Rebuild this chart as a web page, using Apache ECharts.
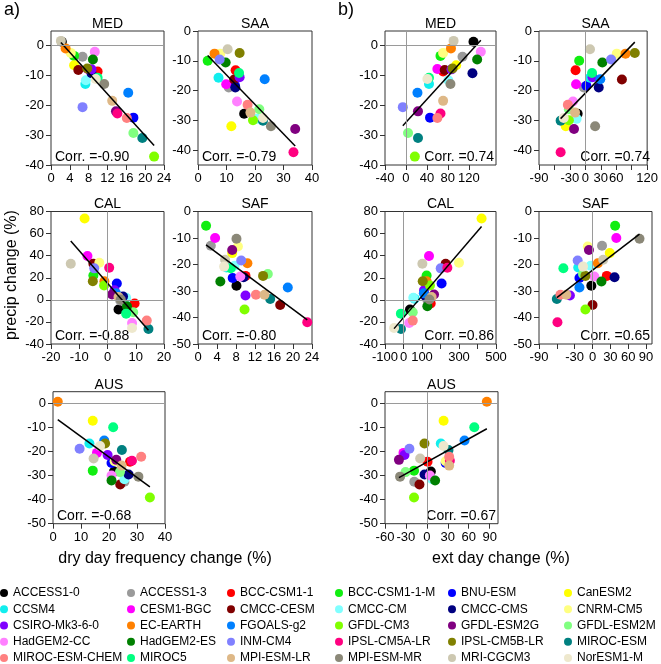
<!DOCTYPE html>
<html><head><meta charset="utf-8">
<script src="https://cdn.jsdelivr.net/npm/echarts@6/dist/echarts.min.js"></script>
<style>html,body{margin:0;padding:0;background:#fff}#c{width:661px;height:664px}</style>
</head><body><div id="c"></div>
<script>
// ---------- DATA ----------
const models = ['ACCESS1-0','ACCESS1-3','BCC-CSM1-1','BCC-CSM1-1-M','BNU-ESM','CanESM2','CCSM4','CESM1-BGC','CMCC-CESM','CMCC-CM','CMCC-CMS','CNRM-CM5','CSIRO-Mk3-6-0','EC-EARTH','FGOALS-g2','GFDL-CM3','GFDL-ESM2G','GFDL-ESM2M','HadGEM2-CC','HadGEM2-ES','INM-CM4','IPSL-CM5A-LR','IPSL-CM5B-LR','MIROC-ESM','MIROC-ESM-CHEM','MIROC5','MPI-ESM-LR','MPI-ESM-MR','MRI-CGCM3','NorESM1-M'];
const modelColors = ['#000000','#9a9a9a','#ff0000','#11ee11','#0000ff','#ffff00','#11eeee','#ff00ff','#800000','#80ffff','#000080','#ffff80','#8000ff','#ff8000','#0080ff','#80ff00','#800080','#80ff80','#ff80ff','#008000','#8080ff','#ff0080','#808000','#008080','#ff8080','#00ff80','#deb887','#8b8878','#cdc8b1','#eee8cd'];

const medPrecip = [1.1,-3.9,-8.8,-3.6,-24.2,-6.7,-13.0,-8.0,-8.3,-11.7,-9.4,-2.6,-8.1,-1.1,-15.9,-37.2,-22.1,-29.3,-2.2,-4.8,-20.7,-22.8,-7.8,-31.0,-24.3,-10.9,-18.6,-13.0,1.4,-11.3];
const medDry = [2.3,6.7,9.9,4.9,17.5,4.9,7.3,7.8,5.8,7.4,8.6,4.2,8.6,3.1,16.4,21.9,13.8,17.5,9.3,8.9,6.7,14.1,7.7,19.4,16.1,9.9,13.0,11.3,2.1,9.5];
const medExt = [129,108,71,66,46,96,44,60,74,81,127,71,87,86,22,17,23,4,143,136,-6,66,89,23,60,44,71,85,91,41];

const saaPrecip = [-27.8,-19.0,-13.2,-10.0,-18.4,-32.0,-15.7,-17.9,-16.3,-29.5,-19.0,-7.6,-15.5,-7.6,-16.2,-30.0,-32.9,-26.3,-23.7,-10.6,-9.6,-40.7,-7.4,-30.1,-24.8,-14.1,-27.4,-32.0,-6.1,-29.2];
const saaDry = [16.2,10.8,13.2,3.4,13.0,11.7,7.2,9.9,12.7,20.7,13.1,7.8,14.6,5.8,23.4,19.3,34.1,21.5,13.7,9.7,7.6,33.5,14.6,22.8,17.4,14.4,18.4,25.6,10.4,22.8];
const saaExt = [-15,-3,-19,-12,2,-38,9,-18,71,-17,26,61,14,78,29,-32,-22,-32,-24,33,50,-48,96,-48,-34,13,-20,19,9,-42];

const calPrecip = [-8.8,-0.5,-3.4,22.1,14.8,73.6,1.0,39.7,32.7,1.8,3.0,33.6,8.7,16.9,6.0,13.0,4.8,-11.2,-21.0,-5.8,28.5,29.1,16.9,-26.4,-18.8,-12.5,2.5,0.3,32.7,-25.5];
const calDry = [3.9,4.5,9.6,-5.0,3.3,-8.1,4.8,-7.1,-5.0,6.6,5.5,-2.9,2.5,-1.1,3.0,-1.2,1.6,9.1,8.7,6.9,-4.7,0.6,-5.2,14.5,13.9,6.6,3.9,4.7,-13.0,8.7];
const calExt = [35,130,147,125,206,422,60,138,228,53,120,300,111,125,110,143,165,50,31,129,201,237,104,-14,50,-14,152,140,102,-51];

const safPrecip = [-28.0,-12.9,-24.3,-5.4,-25.1,-15.7,-21.1,-10.0,-35.3,-20.5,-24.8,-13.2,-31.7,-19.5,-28.7,-37.0,-14.5,-23.6,-24.5,-26.4,-18.5,-41.8,-24.3,-33.0,-31.4,-21.4,-31.4,-10.3,-18.2,-20.8];
const safDry = [8.1,2.7,10.0,1.7,7.3,7.2,6.0,3.6,17.3,7.7,9.6,8.4,10.0,10.4,18.9,9.8,7.2,14.7,8.9,4.7,9.1,23.0,13.7,15.2,12.2,6.9,14.0,8.1,5.7,5.5];
const safExt = [-2,16,24,38,-22,29,-24,40,0,-3,37,-8,-38,9,-22,-12,-6,-16,3,15,-25,-59,-12,-60,-54,-49,-44,79,18,-16];

const ausPrecip = [-28.3,-32.5,-24.2,-27.9,-24.7,-7.1,-16.6,-20.5,-33.7,-31.5,-29.5,-24.0,-21.4,0.8,-15.3,-39.1,-23.4,-28.5,-29.9,-32.0,-18.8,-23.8,-16.6,-19.3,-22.1,-9.8,-25.8,-30.4,-22.8,-17.6];
const ausDry = [21.8,25.5,27.5,14.2,20.9,14.2,13.0,15.7,24.0,25.5,27.0,22.0,19.5,1.7,18.3,34.6,22.6,23.9,20.9,20.9,9.5,28.2,18.6,24.6,31.5,21.5,24.5,30.5,14.5,16.8];
const ausExt = [5.7,-18,1,-18.4,27,24,20,-33.5,-10.6,7.6,-3.3,27,-32,86,54,-18.4,-40,-30.5,4.3,11.8,-25,33,-3.4,31,32,68,32,-38.4,-9.6,24];

const corrDry = ['-0.90','-0.79','-0.88','-0.80','-0.68'];
const corrExt = ['0.74','0.74','0.86','0.65','0.67'];

// tick values / labels
const medDryTicks = [0,4,8,12,16,20,24];
const medExtTicks = [-40,0,40,80,120,160];
const saaDryTicks = [0,10,20,30,40];
const saaExtTicks = [-90,-60,-30,0,30,60,90,120];
const saaExtLabels = [-90,-30,0,30,60,120];
const calDryTicks = [-20,-10,0,10,20];
const calExtTicks = [-100,0,100,200,300,400,500];
const calExtLabels = [-100,0,100,300,500];
const safDryTicks = [0,4,8,12,16,20,24];
const safExtTicks = [-90,-60,-30,0,30,60,90];
const safExtLabels = [-90,-30,0,30,60,90];
const ausDryTicks = [0,10,20,30,40];
const ausExtTicks = [-60,-30,0,30,60,90];
const medPrecipTicks = [-40,-30,-20,-10,0];
const saaPrecipTicks = [-40,-30,-20,-10,0];
const calPrecipTicks = [-40,-20,0,20,40,60,80];
const safPrecipTicks = [-50,-40,-30,-20,-10,0];
const ausPrecipTicks = [-50,-40,-30,-20,-10,0];

// ---------- LAYOUT ----------
const FONT = '"Liberation Sans", Arial, Helvetica, sans-serif';
const panels = [
  {reg:'MED', xs:medDry, ys:medPrecip, corr:corrDry[0], side:'a', box:[51,31,164,165], x:[0,24], y:[-40,4.7], xt:medDryTicks, xl:medDryTicks, yt:medPrecipTicks},
  {reg:'SAA', xs:saaDry, ys:saaPrecip, corr:corrDry[1], side:'a', box:[198,31,312,165], x:[0,40], y:[-45,0], xt:saaDryTicks, xl:saaDryTicks, yt:saaPrecipTicks},
  {reg:'MED', xs:medExt, ys:medPrecip, corr:corrExt[0], side:'b', box:[385,31,496,165], x:[-40,172], y:[-40,4.7], xt:medExtTicks, xl:medExtTicks, yt:medPrecipTicks},
  {reg:'SAA', xs:saaExt, ys:saaPrecip, corr:corrExt[1], side:'b', box:[539,31,652,165], x:[-90,120], y:[-45,0], xt:saaExtTicks, xl:saaExtLabels, yt:saaPrecipTicks},
  {reg:'CAL', xs:calDry, ys:calPrecip, corr:corrDry[2], side:'a', box:[51,211.5,164,344], x:[-20,20], y:[-40,80], xt:calDryTicks, xl:calDryTicks, yt:calPrecipTicks},
  {reg:'SAF', xs:safDry, ys:safPrecip, corr:corrDry[3], side:'a', box:[198,211.5,312,344], x:[0,24], y:[-50,0], xt:safDryTicks, xl:safDryTicks, yt:safPrecipTicks},
  {reg:'CAL', xs:calExt, ys:calPrecip, corr:corrExt[2], side:'b', box:[385,211.5,496,344], x:[-100,500], y:[-40,80], xt:calExtTicks, xl:calExtLabels, yt:calPrecipTicks},
  {reg:'SAF', xs:safExt, ys:safPrecip, corr:corrExt[3], side:'b', box:[539,211.5,652,344], x:[-90,100], y:[-50,0], xt:safExtTicks, xl:safExtLabels, yt:safPrecipTicks},
  {reg:'AUS', xs:ausDry, ys:ausPrecip, corr:corrDry[4], side:'a', box:[53,391.7,165,523.7], x:[0,40], y:[-50,5], xt:ausDryTicks, xl:ausDryTicks, yt:ausPrecipTicks},
  {reg:'AUS', xs:ausExt, ys:ausPrecip, corr:corrExt[4], side:'b', box:[385,391.7,498,523.7], x:[-60,102], y:[-50,5], xt:ausExtTicks, xl:ausExtTicks, yt:ausPrecipTicks}
];

const grids=[], xAxes=[], yAxes=[], series=[], graphics=[];
panels.forEach((p,i)=>{
  const [l,t,r,b] = p.box;
  grids.push({left:l, top:t, width:r-l, height:b-t, show:true, borderColor:'#333', borderWidth:1, backgroundColor:'transparent'});
  const tickStyle = {show:true, inside:false, length:5, lineStyle:{color:'#333', width:1}};
  xAxes.push({gridIndex:i, type:'value', min:p.x[0], max:p.x[1], splitLine:{show:false},
    axisLine:{show:false, onZero:false},
    axisTick:Object.assign({customValues:p.xt}, tickStyle),
    axisLabel:{customValues:p.xl, fontSize:13, color:'#000', margin:7, fontFamily:FONT, hideOverlap:false}});
  yAxes.push({gridIndex:i, type:'value', min:p.y[0], max:p.y[1], splitLine:{show:false},
    axisLine:{show:false, onZero:false},
    axisTick:Object.assign({customValues:p.yt}, tickStyle),
    axisLabel:{customValues:p.yt, fontSize:13, color:'#000', margin:7, fontFamily:FONT}});
  const ml = [];
  if (p.y[0] < 0 && p.y[1] > 0) ml.push({yAxis:0});
  if (p.x[0] < 0 && p.x[1] > 0) ml.push({xAxis:0});
  series.push({type:'line', xAxisIndex:i, yAxisIndex:i, data:[], z:1, silent:true,
    markLine:{silent:true, symbol:'none', animation:false, label:{show:false},
      lineStyle:{color:'#9a9a9a', width:1, type:'solid'}, data:ml}});
  models.forEach((m,k)=>{
    series.push({type:'scatter', name:m, xAxisIndex:i, yAxisIndex:i, z:2,
      symbol:'circle', symbolSize:10, itemStyle:{color:modelColors[k], opacity:1},
      data:[[p.xs[k], p.ys[k]]]});
  });
  const n = p.xs.length;
  const mx = p.xs.reduce((a,v)=>a+v,0)/n, my = p.ys.reduce((a,v)=>a+v,0)/n;
  let sxy=0, sxx=0;
  for (let k=0;k<n;k++){ sxy += (p.xs[k]-mx)*(p.ys[k]-my); sxx += (p.xs[k]-mx)**2; }
  const slope = sxy/sxx, icpt = my - slope*mx;
  const x0 = Math.min(...p.xs), x1 = Math.max(...p.xs);
  series.push({type:'line', xAxisIndex:i, yAxisIndex:i, z:3, silent:true, symbol:'none',
    lineStyle:{color:'#000', width:1.5}, data:[[x0, icpt+slope*x0],[x1, icpt+slope*x1]]});
  graphics.push({type:'text', x:(l+r)/2, y:t-7, style:{text:p.reg, fontSize:14, fontFamily:FONT, fill:'#000', align:'center', verticalAlign:'middle'}});
  graphics.push({type:'text', x: p.side==='a' ? l+4 : r-2, y:b-8,
    style:{text:'Corr. =' + p.corr, fontSize:14, fontFamily:FONT, fill:'#000', align: p.side==='a'?'left':'right', verticalAlign:'middle'}});
});

graphics.push({type:'text', x:4, y:10, style:{text:'a)', fontSize:18, fontFamily:FONT, fill:'#000', align:'left', verticalAlign:'middle'}});
graphics.push({type:'text', x:338, y:10, style:{text:'b)', fontSize:18, fontFamily:FONT, fill:'#000', align:'left', verticalAlign:'middle'}});
graphics.push({type:'text', x:12, y:275, rotation:Math.PI/2, style:{text:'precip change (%)', fontSize:16, fontFamily:FONT, fill:'#000', align:'center', verticalAlign:'middle'}});
graphics.push({type:'text', x:165, y:559, style:{text:'dry day frequency change (%)', fontSize:16, fontFamily:FONT, fill:'#000', align:'center', verticalAlign:'middle'}});
graphics.push({type:'text', x:501, y:559, style:{text:'ext day change (%)', fontSize:16, fontFamily:FONT, fill:'#000', align:'center', verticalAlign:'middle'}});

// legend: 6 columns x 5 rows, row-major model order
const colLefts = [0,127,227,335,448,564];
const legends = colLefts.map((left,j)=>({
  orient:'vertical', left:left, top:587, height:77, padding:0, itemWidth:8, itemHeight:8, itemGap:4.25,
  icon:'circle', selectedMode:false,
  data: models.filter((m,k)=>k%6===j),
  textStyle:{fontSize:12, lineHeight:12, color:'#000', fontFamily:FONT}
}));

const chart = echarts.init(document.getElementById('c'), null, {renderer:'canvas'});
chart.setOption({animation:false, backgroundColor:'#fff', grid:grids, xAxis:xAxes, yAxis:yAxes, series:series, legend:legends, graphic:graphics});
</script></body></html>
